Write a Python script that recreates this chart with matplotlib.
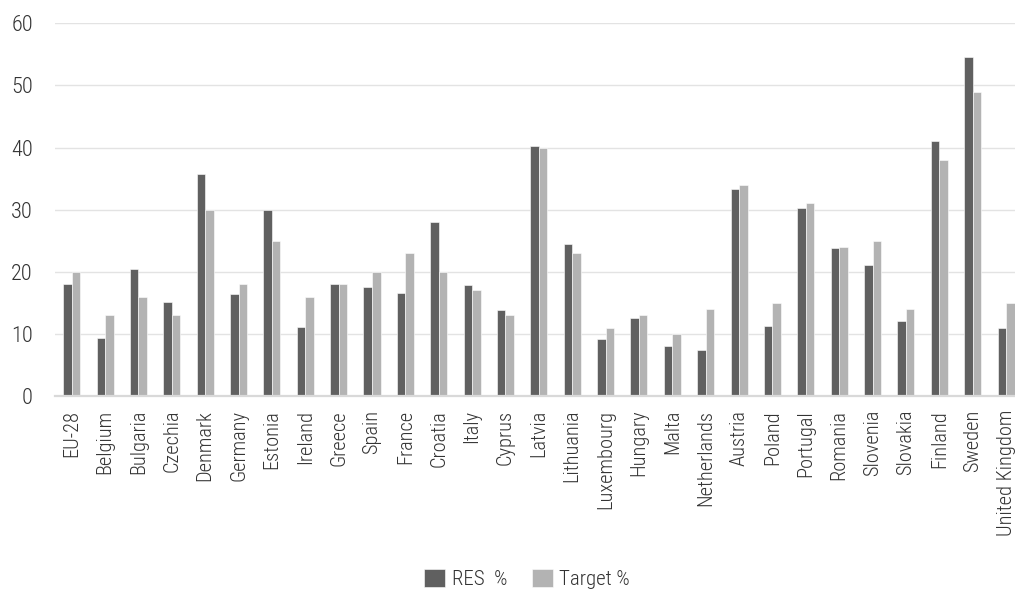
import matplotlib
matplotlib.use('Agg')
import matplotlib.pyplot as plt
import numpy as np

plt.rcParams['font.family'] = ['Roboto Condensed', 'DejaVu Sans']
plt.rcParams['font.weight'] = 300

countries = ['EU-28', 'Belgium', 'Bulgaria', 'Czechia', 'Denmark', 'Germany', 'Estonia',
             'Ireland', 'Greece', 'Spain', 'France', 'Croatia', 'Italy', 'Cyprus', 'Latvia',
             'Lithuania', 'Luxembourg', 'Hungary', 'Malta', 'Netherlands', 'Austria', 'Poland',
             'Portugal', 'Romania', 'Slovenia', 'Slovakia', 'Finland', 'Sweden', 'United Kingdom']
res = [18.0, 9.4, 20.5, 15.1, 35.7, 16.5, 30.0, 11.1, 18.0, 17.5, 16.6, 28.0, 17.8, 13.9, 40.3,
       24.4, 9.1, 12.5, 8.0, 7.4, 33.4, 11.3, 30.3, 23.9, 21.1, 12.0, 41.1, 54.5, 11.0]
target = [20, 13, 16, 13, 30, 18, 25, 16, 18, 20, 23, 20, 17, 13, 40,
          23, 11, 13, 10, 14, 34, 15, 31, 24, 25, 14, 38, 49, 15]

text_col = '#333333'
fig = plt.figure(figsize=(10.15, 5.89), dpi=100)
ax = fig.add_axes([55 / 1015, (589 - 396) / 589, 967.7 / 1015, (396 - 23.3) / 589])

x = np.arange(len(countries))
w = 0.255
ax.bar(x - w / 2, res, w, color='#606060', edgecolor='white', linewidth=0.4, label='RES  %', zorder=3)
ax.bar(x + w / 2, target, w, color='#b3b3b3', edgecolor='white', linewidth=0.4, label='Target %', zorder=3)

ax.set_xlim(-0.5, len(countries) - 0.5)
ax.set_ylim(0, 60)
ax.set_yticks(range(0, 61, 10))
ax.yaxis.grid(True, color='#e3e3e3', linewidth=1, zorder=0)
for s in ['top', 'right', 'left']:
    ax.spines[s].set_visible(False)
ax.spines['bottom'].set_color('#d9d9d9')
ax.spines['bottom'].set_linewidth(1.6)
ax.spines['bottom'].set_zorder(4)

ax.set_xticks(x)
ax.set_xticklabels(countries, rotation=90, va='top', ha='center')
ax.tick_params(axis='x', length=0, pad=10, labelsize=14.7, labelcolor=text_col)
ax.tick_params(axis='y', length=0, pad=16, labelsize=16, labelcolor=text_col)

# legend squares a bit larger than default, like the original
fig.legend(loc='center', bbox_to_anchor=(527 / 1015, 1 - 579 / 589), ncol=2, frameon=False,
           fontsize=15, labelcolor=text_col, handlelength=1.0, handleheight=1.0,
           handletextpad=0.3, columnspacing=1.2, borderpad=0)

fig.savefig('out.png')
